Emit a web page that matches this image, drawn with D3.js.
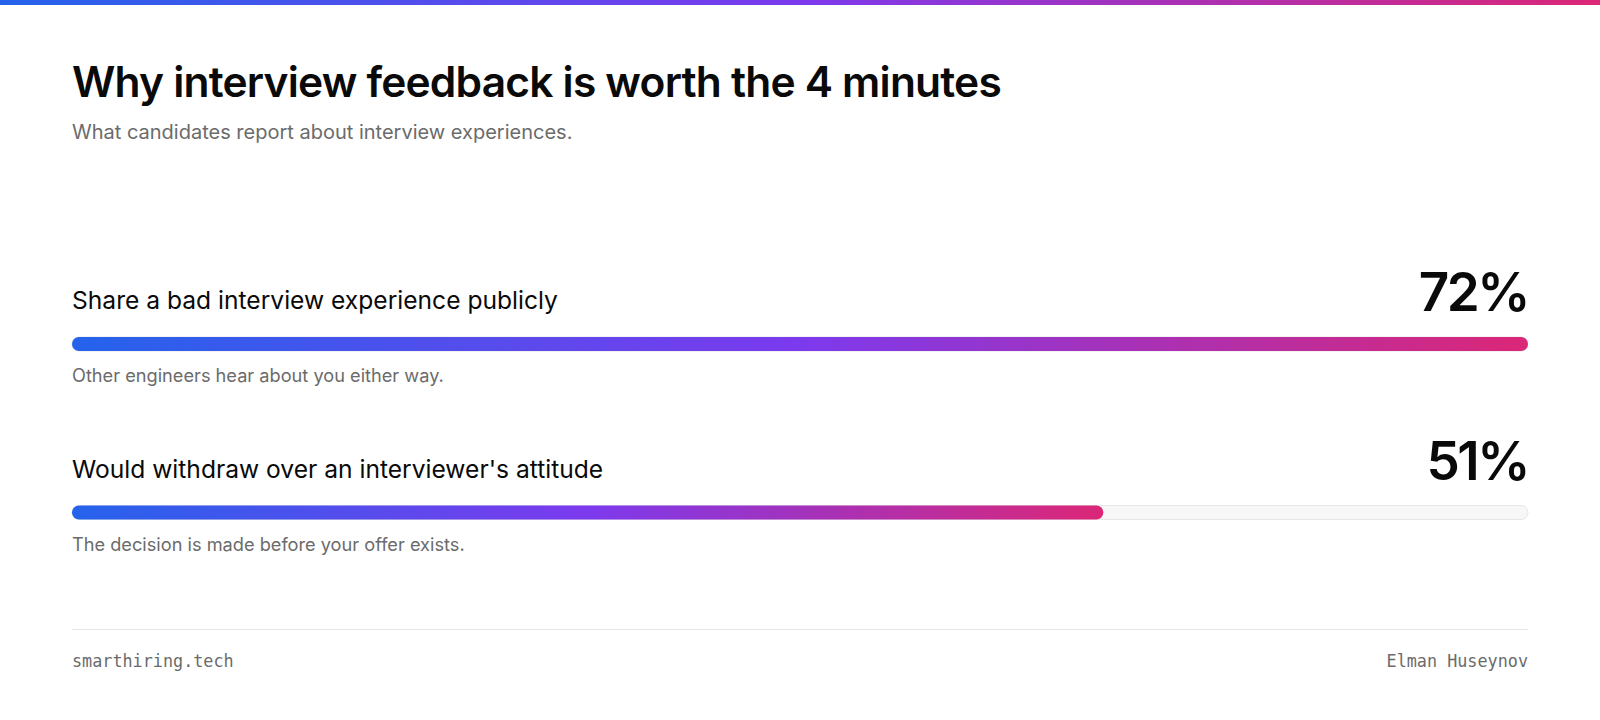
<!DOCTYPE html>
<html><head><meta charset="utf-8">
<script src="https://cdn.jsdelivr.net/npm/d3@7"></script>
<style>
body{margin:0;background:#fff;font-family:Inter,"Noto Sans",sans-serif}
</style></head><body>
<script>
const labels = ["Share a bad interview experience publicly", "Would withdraw over an interviewer's attitude"]
const values = [72, 51]
const notes = ["Other engineers hear about you either way.", "The decision is made before your offer exists."]

const w = 1600, h = 720, padding = 72
const svg = d3.select('body').append('svg').attr('width', w).attr('height', h)

const defs = svg.append('defs')
const grad = defs.append('linearGradient').attr('id', 'g').attr('x1', 0).attr('x2', 1).attr('y1', 0).attr('y2', 0)
grad.append('stop').attr('offset', '0%').attr('stop-color', '#2563eb')
grad.append('stop').attr('offset', '50%').attr('stop-color', '#7c3aed')
grad.append('stop').attr('offset', '100%').attr('stop-color', '#db2777')

svg.append('rect').attr('width', w).attr('height', 5).attr('fill', 'url(#g)')

svg.append('text').attr('x', padding).attr('y', 97).attr('font-size', 42.5).attr('font-weight', 600)
    .attr('letter-spacing', -0.8).attr('fill', '#0a0a0a').text('Why interview feedback is worth the 4 minutes')
svg.append('text').attr('x', padding).attr('y', 139).attr('font-size', 20).attr('fill', '#6b6b6b')
    .text('What candidates report about interview experiences.')

const xScale = d3.scaleLinear().domain([0, d3.max(values)]).range([padding, w - padding])
const yScale = d3.scaleBand().domain(labels).range([263, 600]).paddingInner(0)

const rows = svg.selectAll('g.row').data(labels).enter().append('g')
    .attr('transform', d => 'translate(0,' + yScale(d) + ')')

rows.append('text').attr('x', padding).attr('y', 46).attr('font-size', 24.6).attr('fill', '#0a0a0a')
    .text(d => d)
rows.append('text').attr('x', w - padding).attr('y', 48).attr('text-anchor', 'end')
    .attr('font-size', 53).attr('font-weight', 600).attr('letter-spacing', -2.5).attr('fill', '#0a0a0a')
    .text((d, i) => values[i] + '%')
rows.append('rect').attr('x', padding).attr('y', 74).attr('width', w - 2 * padding).attr('height', 14)
    .attr('rx', 7).attr('fill', '#f7f7f7').attr('stroke', '#e6e6e6')
rows.append('rect').attr('x', padding).attr('y', 74).attr('height', 14).attr('rx', 7)
    .attr('width', (d, i) => xScale(values[i]) - padding).attr('fill', 'url(#g)')
rows.append('text').attr('x', padding).attr('y', 119).attr('font-size', 18.2).attr('fill', '#6b6b6b')
    .text((d, i) => notes[i])

svg.append('line').attr('x1', padding).attr('x2', w - padding).attr('y1', 629.5).attr('y2', 629.5).attr('stroke', '#e5e5e5')
svg.append('text').attr('x', padding).attr('y', 667).attr('font-family', '"DejaVu Sans Mono",monospace')
    .attr('font-size', 16.8).attr('fill', '#6b6b6b').text('smarthiring.tech')
svg.append('text').attr('x', w - padding).attr('y', 667).attr('text-anchor', 'end').attr('font-family', '"DejaVu Sans Mono",monospace')
    .attr('font-size', 16.8).attr('fill', '#6b6b6b').text('Elman Huseynov')
</script>
</body></html>
